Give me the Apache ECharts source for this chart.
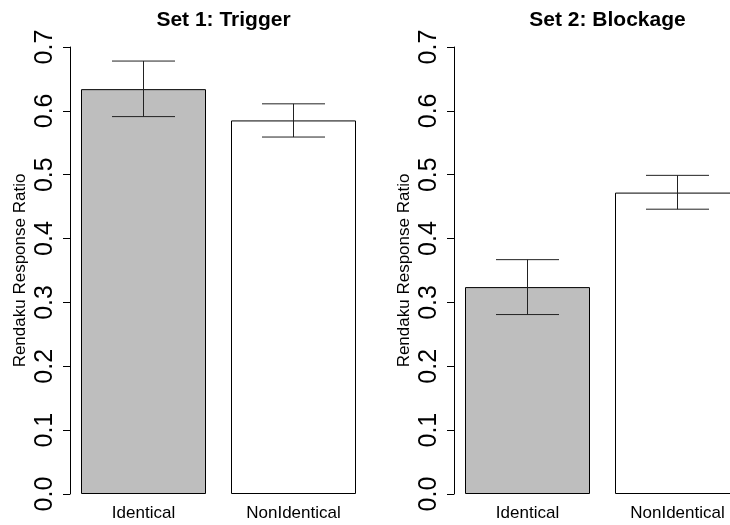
<!DOCTYPE html>
<html>
<head>
<meta charset="utf-8">
<script src="https://cdn.jsdelivr.net/npm/echarts@6/dist/echarts.min.js"></script>
<style>
html,body{margin:0;padding:0;background:#fff;}
#chart{width:730px;height:525px;}
</style>
</head>
<body>
<div id="chart"></div>
<script>
var categories = ['Identical', 'NonIdentical'];
var titles = ['Set 1: Trigger', 'Set 2: Blockage'];
var set1Means = [0.634, 0.585];
var set1Lower = [0.591, 0.559];
var set1Upper = [0.678, 0.611];
var set2Means = [0.324, 0.472];
var set2Lower = [0.281, 0.446];
var set2Upper = [0.367, 0.499];
var yTicks = [0, 0.1, 0.2, 0.3, 0.4, 0.5, 0.6, 0.7];
var barColors = ['#bebebe', '#ffffff'];

// R barplot layout: bar width 1, space 0.2 -> centers at 0.7, 1.9
function barCenter(j) { return 0.7 + 1.2 * j; }
var centers = categories.map(function (c, j) { return barCenter(j); });

var chart = echarts.init(document.getElementById('chart'), null, {renderer: 'canvas'});
var font = 'Liberation Sans, Arial, Helvetica, sans-serif';

function errItem(params, api) {
  var x = api.value(0);
  var lo = api.coord([x, api.value(1)]);
  var hi = api.coord([x, api.value(2)]);
  var half = 31.5;
  var st = {stroke: '#222', lineWidth: 1};
  return {
    type: 'group',
    children: [
      {type: 'line', shape: {x1: lo[0], y1: lo[1], x2: hi[0], y2: hi[1]}, style: st},
      {type: 'line', shape: {x1: lo[0] - half, y1: lo[1], x2: lo[0] + half, y2: lo[1]}, style: st},
      {type: 'line', shape: {x1: hi[0] - half, y1: hi[1], x2: hi[0] + half, y2: hi[1]}, style: st}
    ]
  };
}

var sets = [
  {means: set1Means, lower: set1Lower, upper: set1Upper, left: 70, width: 297},
  {means: set2Means, lower: set2Lower, upper: set2Upper, left: 454, width: 276}
];

var grids = [], xAxes = [], yAxes = [], series = [], title = [];
sets.forEach(function (s, i) {
  grids.push({left: s.left, top: 47, width: s.width, height: 447, containLabel: false});
  title.push({
    text: titles[i], left: s.left + 148.5, top: 5, textAlign: 'center',
    textStyle: {fontFamily: font, fontSize: 21, fontWeight: 'bold', color: '#000'}
  });
  xAxes.push({
    type: 'value', gridIndex: i, min: 0.112, max: 0.112 + s.width / 125,
    axisLine: {show: false}, axisTick: {show: false}, splitLine: {show: false},
    axisLabel: {
      customValues: centers, fontFamily: font, fontSize: 17, color: '#000', margin: 11,
      formatter: function (v) {
        for (var j = 0; j < centers.length; j++) {
          if (Math.abs(centers[j] - v) < 1e-6) return categories[j];
        }
        return '';
      }
    }
  });
  yAxes.push({
    type: 'value', gridIndex: i, min: 0, max: 0.7, interval: 0.1,
    name: 'Rendaku Response Ratio', nameLocation: 'middle', nameGap: 41,
    nameMoveOverlap: false,
    nameTextStyle: {fontFamily: font, fontSize: 17, color: '#000'},
    axisLine: {show: true, lineStyle: {color: '#000', width: 1}},
    axisTick: {show: true, length: 7, lineStyle: {color: '#000'}},
    splitLine: {show: false},
    axisLabel: {
      rotate: 90, fontFamily: font, fontSize: 25, color: '#000', margin: 12,
      formatter: function (v) { return v.toFixed(1); }
    }
  });
  series.push({
    type: 'bar', xAxisIndex: i, yAxisIndex: i, barWidth: 125,
    data: s.means.map(function (m, j) {
      return {value: [centers[j], m], itemStyle: {color: barColors[j], borderColor: '#000', borderWidth: 1}};
    }),
    silent: true, animation: false
  });
  series.push({
    type: 'custom', xAxisIndex: i, yAxisIndex: i, renderItem: errItem,
    data: s.means.map(function (m, j) { return [centers[j], s.lower[j], s.upper[j]]; }),
    silent: true, animation: false, z: 5
  });
});

chart.setOption({
  animation: false,
  backgroundColor: '#fff',
  title: title,
  grid: grids,
  xAxis: xAxes,
  yAxis: yAxes,
  series: series
});
</script>
</body>
</html>
